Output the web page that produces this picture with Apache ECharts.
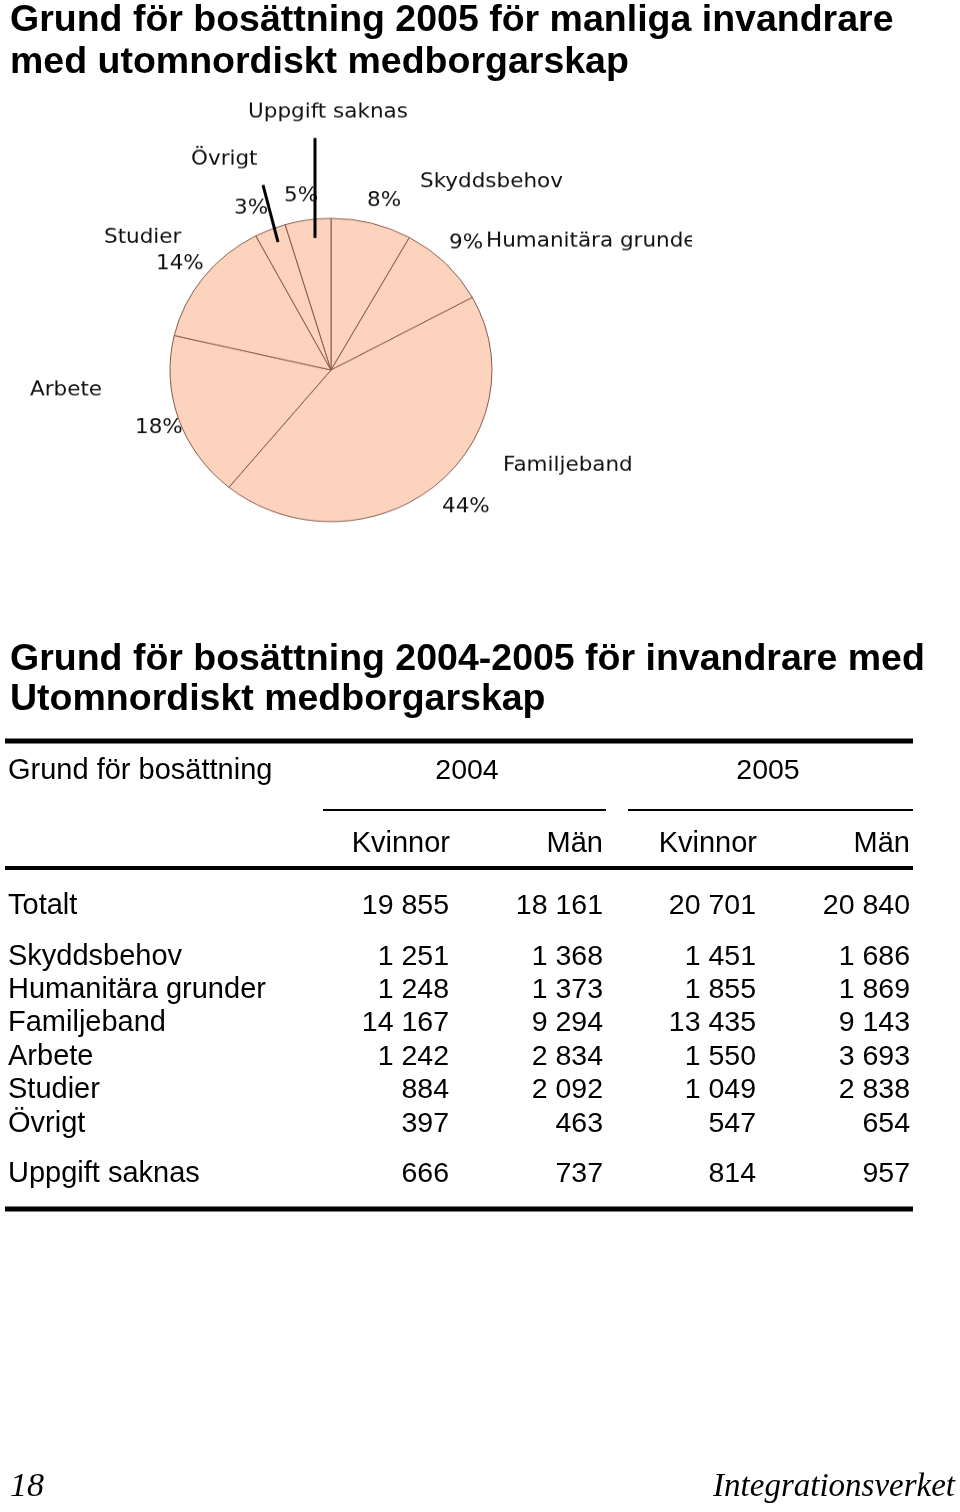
<!DOCTYPE html>
<html><head><meta charset="utf-8">
<script src="https://cdn.jsdelivr.net/npm/echarts@6/dist/echarts.min.js"></script>
<style>
html,body{margin:0;padding:0;background:#fff;}
#page{position:absolute;left:0;top:0;width:960px;height:1512px;}
#pie{position:absolute;left:0;top:0;width:692px;height:600px;transform:scaleY(0.942);transform-origin:0 370px;}
</style>
</head><body>
<div id="page"></div><div id="pie"></div>
<script>
// ---- data ----
const chartTitle = ['Grund för bosättning 2005 för manliga invandrare', 'med utomnordiskt medborgarskap'];
const tableTitle = ['Grund för bosättning 2004-2005 för invandrare med', 'Utomnordiskt medborgarskap'];
const headerLabel = 'Grund för bosättning';
const years = ['2004', '2005'];
const sexes = ['Kvinnor', 'Män'];
const categories = ['Totalt', 'Skyddsbehov', 'Humanitära grunder', 'Familjeband', 'Arbete', 'Studier', 'Övrigt', 'Uppgift saknas'];
const women2004 = [19855, 1251, 1248, 14167, 1242, 884, 397, 666];
const men2004   = [18161, 1368, 1373, 9294, 2834, 2092, 463, 737];
const women2005 = [20701, 1451, 1855, 13435, 1550, 1049, 547, 814];
const men2005   = [20840, 1686, 1869, 9143, 3693, 2838, 654, 957];
const footerLeft = '18';
const footerRight = 'Integrationsverket';

// pie: men 2005 by reason (excluding total)
const pieNames = categories.slice(1);
const pieValues = men2005.slice(1);

// ---- layout (positions only, page coordinates) ----
const squash = 0.942, cy0 = 370;           // pie drawn slightly elliptical like the original
const toChartY = y => cy0 + (y - cy0) / squash;
const pieCenter = [331, cy0], pieRadius = 161;
const namePos = [[420,182],[486,241],[503,466],[30,390],[104,238],[191,159],[248,112]];
const pctPos  = [[367,201],[449,243],[442,507],[135,428],[156,264],[234,208],[284,196]];
const leaderLines = {5: [[278,242],[263,185]], 6: [[315,238],[315,138]]};
const colRight = [449, 603, 756, 910];
const rowY = [906, 957, 990, 1023, 1057, 1090, 1124, 1174];

const fmt = v => String(v).replace(/\B(?=(\d{3})+(?!\d))/g, ' ');
const TF = '"Liberation Sans", Arial, sans-serif';
const LBL = '29px ' + TF, NUM = '28.5px ' + TF;

// ---- page chart: titles + table ----
const g = [];
chartTitle.forEach((t, i) => g.push({type:'text', x:10, y:[21,63][i], style:{text:t, font:'bold 37.5px ' + TF, fill:'#000', verticalAlign:'middle'}}));
tableTitle.forEach((t, i) => g.push({type:'text', x:10, y:[660,700][i], style:{text:t, font:'bold 37.5px ' + TF, fill:'#000', verticalAlign:'middle'}}));
const hline = (x1, x2, y, w) => g.push({type:'line', shape:{x1, y1:y, x2, y2:y}, style:{stroke:'#000', lineWidth:w}});
hline(5, 913, 741, 5);
hline(323, 606, 810, 2);
hline(628, 913, 810, 2);
hline(5, 913, 868, 4);
hline(5, 913, 1209, 5);
g.push({type:'text', x:8, y:771, style:{text:headerLabel, font:LBL, fill:'#000', verticalAlign:'middle'}});
years.forEach((t, i) => g.push({type:'text', x:[467,768][i], y:771, style:{text:t, font:NUM, fill:'#000', align:'center', verticalAlign:'middle'}}));
[sexes[0], sexes[1], sexes[0], sexes[1]].forEach((t, i) => g.push({type:'text', x:colRight[i] + (i % 2 ? 0 : 1), y:844, style:{text:t, font:LBL, fill:'#000', align:'right', verticalAlign:'middle'}}));
const cols = [women2004, men2004, women2005, men2005];
categories.forEach((c, r) => {
  g.push({type:'text', x:8, y:rowY[r], style:{text:c, font:LBL, fill:'#000', verticalAlign:'middle'}});
  cols.forEach((arr, ci) => g.push({type:'text', x:colRight[ci], y:rowY[r], style:{text:fmt(arr[r]), font:NUM, fill:'#000', align:'right', verticalAlign:'middle'}}));
});
g.push({type:'text', x:10, y:1487, style:{text:footerLeft, font:'italic 34px "Liberation Serif", serif', fill:'#000', verticalAlign:'middle'}});
g.push({type:'text', x:955, y:1487, style:{text:footerRight, font:'italic 33px "Liberation Serif", serif', fill:'#000', align:'right', verticalAlign:'middle'}});

const page = echarts.init(document.getElementById('page'));
page.setOption({backgroundColor:'#fff', animation:false, graphic:{elements:g}});

// ---- pie chart ----
const total = pieValues.reduce((a, b) => a + b, 0);
const PF = '"DejaVu Sans", Verdana, sans-serif';
const pie = echarts.init(document.getElementById('pie'));
pie.setOption({
  animation:false,
  series:[
    {
      type:'pie', center:pieCenter, radius:pieRadius, startAngle:90, clockwise:true, z:2,
      data: pieNames.map((n, i) => ({name:n, value:pieValues[i]})),
      itemStyle:{color:'#FCD4BD', borderColor:'#85584a', borderWidth:1},
      emphasis:{disabled:true},
      label:{show:true, formatter:p => Math.round(p.value / total * 100) + '%', fontFamily:PF, fontSize:21.5, color:'#111'},
      labelLine:{show:false},
      labelLayout: p => ({x:pctPos[p.dataIndex][0], y:toChartY(pctPos[p.dataIndex][1]), align:'left', verticalAlign:'middle'})
    },
    {
      type:'pie', center:pieCenter, radius:pieRadius, startAngle:90, clockwise:true, z:3, silent:true,
      data: pieNames.map((n, i) => ({name:n, value:pieValues[i], labelLine:{show: !!leaderLines[i]}})),
      itemStyle:{color:'rgba(0,0,0,0)', borderWidth:0},
      emphasis:{disabled:true},
      label:{show:true, formatter:'{b}', fontFamily:PF, fontSize:21.5, color:'#111'},
      labelLine:{show:true, length:10, length2:0, lineStyle:{color:'#000', width:3}},
      labelLayout: p => {
        const o = {x:namePos[p.dataIndex][0], y:toChartY(namePos[p.dataIndex][1]), align:'left', verticalAlign:'middle'};
        const L = leaderLines[p.dataIndex];
        if (L) o.labelLinePoints = [[L[0][0], toChartY(L[0][1])], [L[1][0], toChartY(L[1][1])], [L[1][0], toChartY(L[1][1])]];
        return o;
      }
    }
  ]
});
</script>
</body></html>
